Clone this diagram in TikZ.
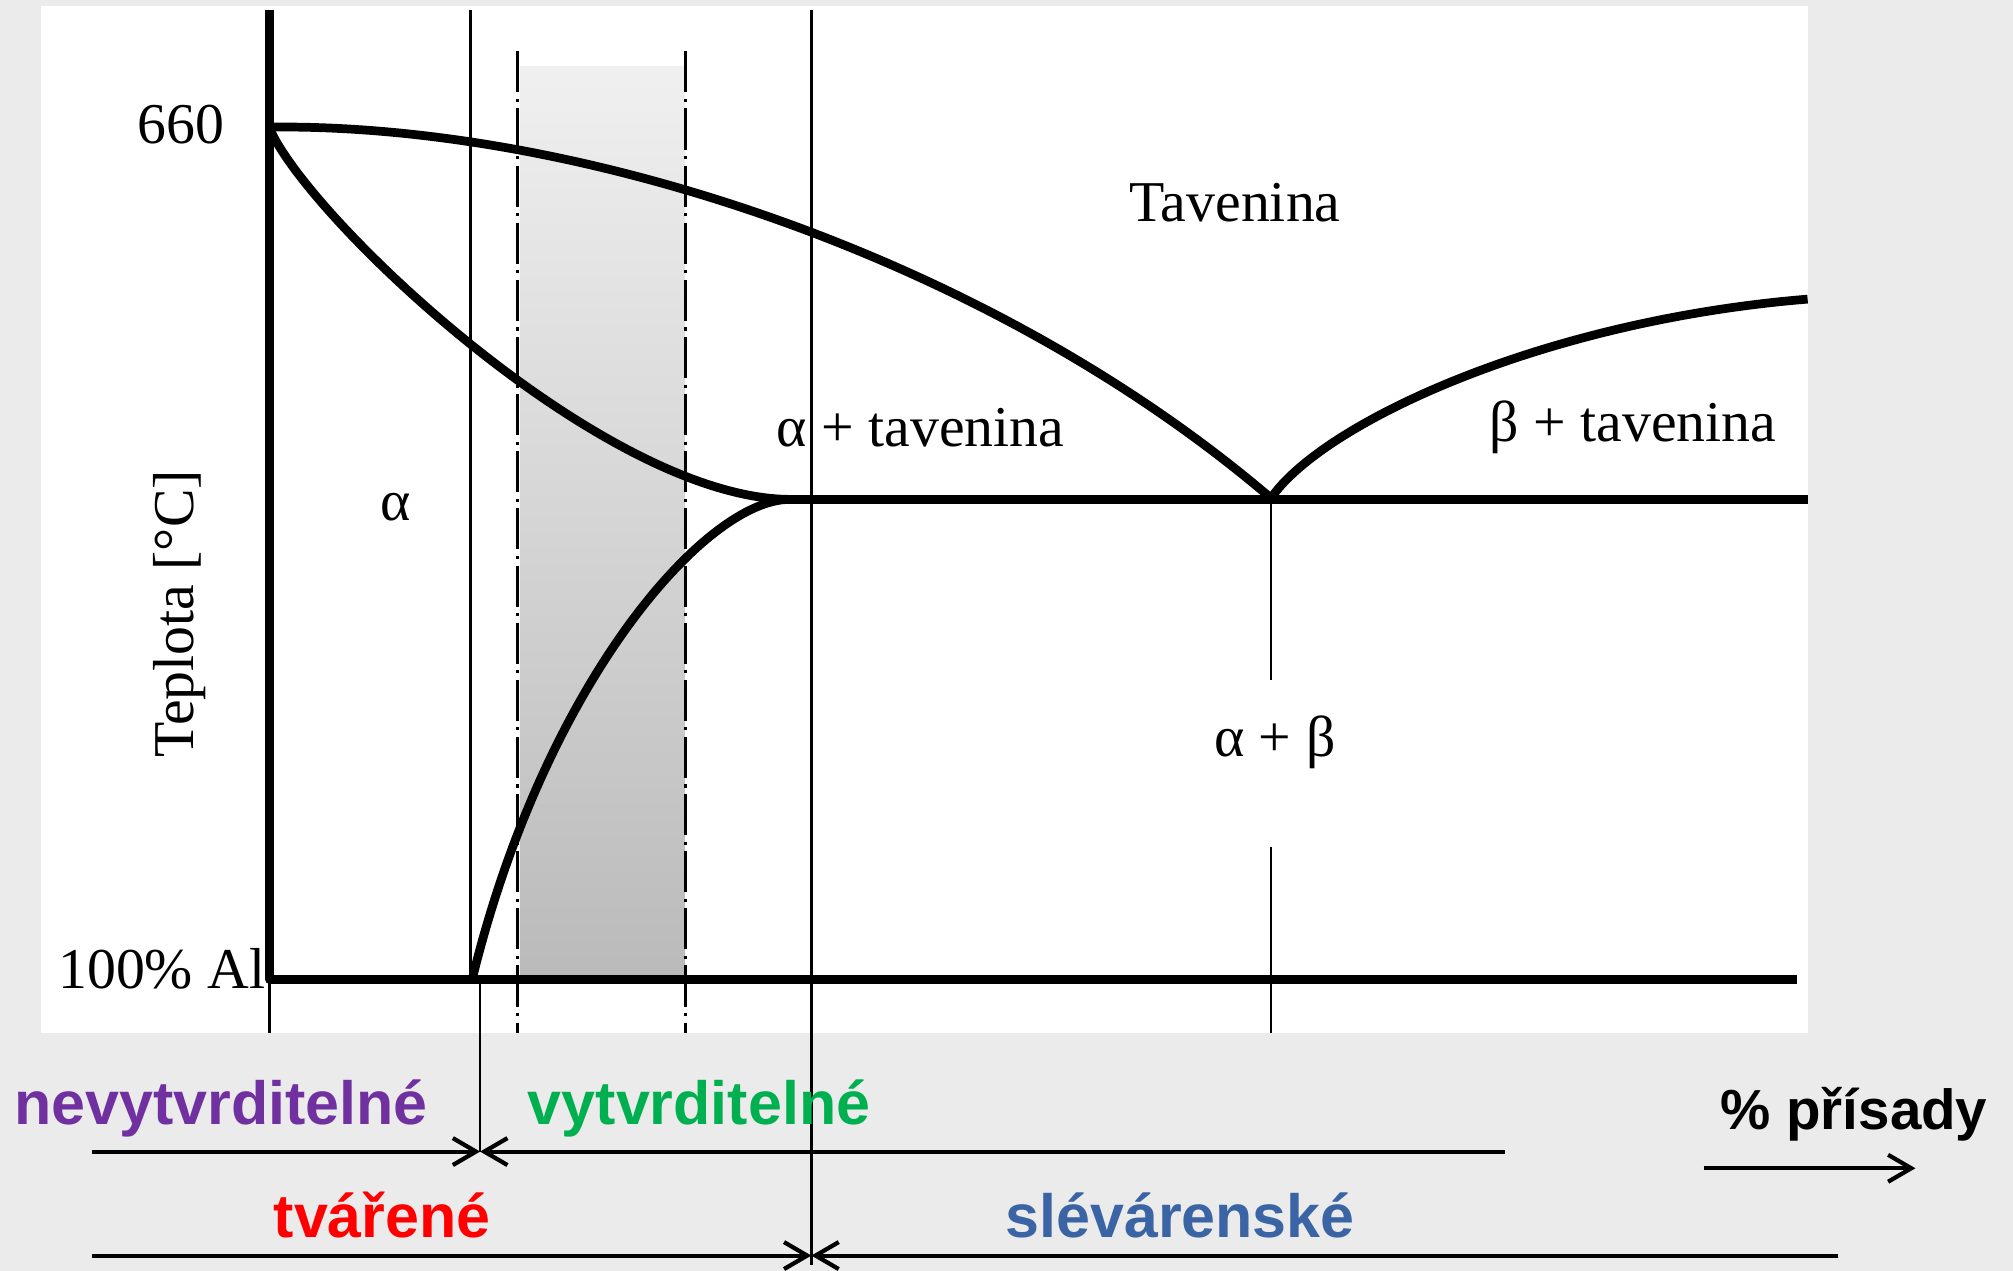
\documentclass[tikz,border=0pt]{standalone}
\usepackage{fontspec}
\setmainfont{Liberation Serif}
\newfontfamily\lsans{Liberation Sans}
\usetikzlibrary{arrows.meta}
\definecolor{bg}{HTML}{EBEBEB}
\definecolor{cpurple}{HTML}{7030A0}
\definecolor{cgreen}{HTML}{00B050}
\definecolor{cred}{HTML}{FF0000}
\definecolor{cblue}{HTML}{3A64A4}
\begin{document}
\begin{tikzpicture}[x=1pt,y=-1pt,
  curve/.style={line width=6.8pt, line join=round},
  thinl/.style={line width=2.1pt},
  dashdot/.style={line width=2.2pt, dash pattern=on 32pt off 5pt on 2.5pt off 5pt},
  lbl/.style={font=\fontsize{45}{50}\selectfont, inner sep=0pt},
  blbl/.style={font=\lsans\bfseries\fontsize{47.5}{52}\selectfont, inner sep=0pt, anchor=base west},
  arr/.style={line width=3.2pt, -{Straight Barb[length=18pt,width=21pt,line width=3.3pt]}}
]
\useasboundingbox (0,0) rectangle (1568,990);
\fill[bg] (0,0) rectangle (1568,990);
\fill[white] (32,5) rectangle (1408,805);
% shaded band
\shade[top color=black!6, bottom color=black!27] (405,52) rectangle (533,763);
% dash-dot lines
\draw[dashdot] (403,40) -- (403,805);
\draw[dashdot] (534,40) -- (534,805);
% thin vertical lines
\draw[thinl] (366.5,8) -- (366.5,763);
\draw[thinl] (374,763) -- (374,897);
\draw[thinl] (632,8) -- (632,985);
\draw[thinl] (990,388) -- (990,530);
\draw[thinl] (990,660) -- (990,805);
\draw[thinl] (210,763) -- (210,805);
% axes
\draw[curve] (210,8) -- (210,763) -- (1400,763);
% phase boundaries
\draw[curve] (210,99) .. controls (450,96) and (770,200) .. (990,388);
\draw[curve] (990,388) .. controls (1030,330) and (1200,250) .. (1408,233);
\draw[curve] (210,100) .. controls (240,170) and (470,388) .. (615,389);
\draw[curve] (615,389) .. controls (550,389) and (425,530) .. (368,762);
\draw[curve] (610,389) -- (1408,389);
% labels in the diagram
\node[lbl] (t660) at (141,97) {660};
\node[lbl] (tal) at (126,755) {100\% Al};
\node[lbl, rotate=90] (tep) at (140,478) {Teplota [°C]};
\node[lbl] (alpha) at (308,395) {α};
\node[lbl] (altav) at (717,333) {α + tavenina};
\node[lbl] (tav) at (962,158) {Tavenina};
\node[lbl] (betav) at (1272,333) {β + tavenina};
\node[lbl] (ab) at (993,578) {α + β};
% bottom labels
\node[blbl, text=cpurple] (nevyt) at (11,876) {nevytvrditelné};
\node[blbl, text=cgreen] (vyt) at (411,876) {vytvrditelné};
\node[blbl, font=\lsans\bfseries\fontsize{44}{48}\selectfont] (pris) at (1340,880) {\% přísady};
\node[blbl, text=cred] (tvar) at (213,964) {tvářené};
\node[blbl, text=cblue] (slev) at (783,964) {slévárenské};
% arrows
\coordinate (a1s) at (72,897);
\coordinate (a1m) at (374,897);
\coordinate (a1e) at (1172,897);
\coordinate (a2s) at (72,978);
\coordinate (a2m) at (632,978);
\coordinate (a2e) at (1432,978);
\coordinate (p1) at (1327,910);
\coordinate (p2) at (1492,910);
\draw[arr] (a1s) -- (a1m);
\draw[arr] (a1e) -- (a1m);
\draw[arr] (a2s) -- (a2m);
\draw[arr] (a2e) -- (a2m);
\draw[arr] (p1) -- (p2);
\end{tikzpicture}
\end{document}
